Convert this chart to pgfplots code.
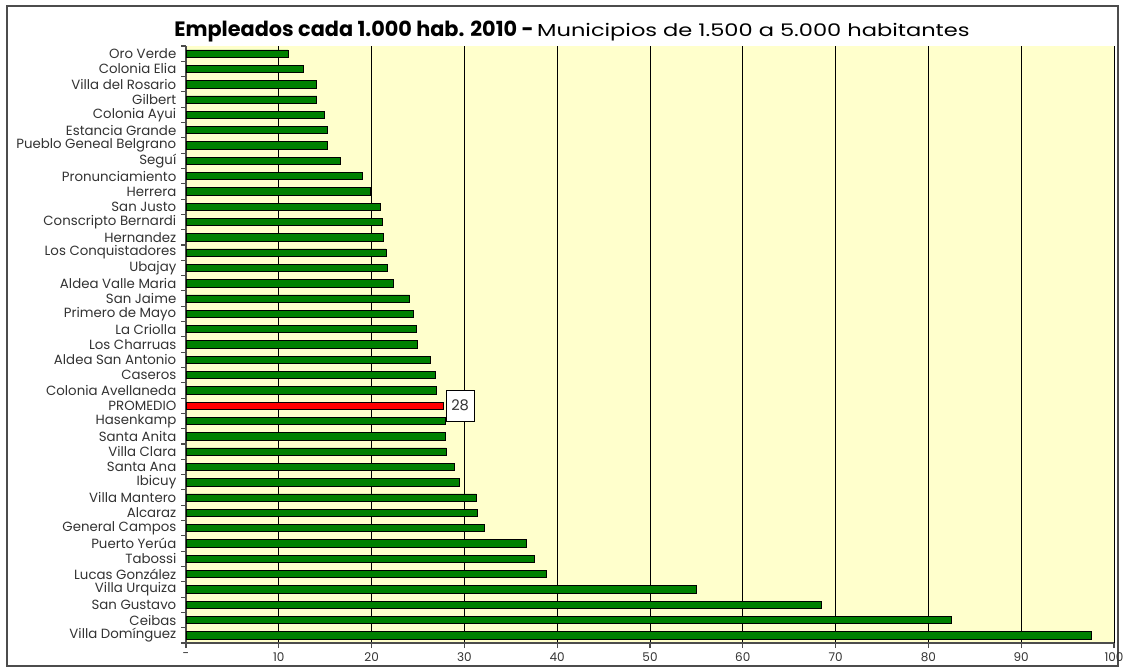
\documentclass[border=0pt]{standalone}
\usepackage{pgfplots}
\pgfplotsset{compat=1.18}
\usepackage{fontspec}
\setmainfont{Poppins}
\definecolor{plotbg}{RGB}{255,255,204}
\definecolor{bargreen}{RGB}{0,128,0}
\definecolor{barred}{RGB}{255,0,0}

% idx = row from the top, val = empleados cada 1.000 hab.
\pgfplotstableread{
idx val
0  11.0
1  12.6
2  14.1
3  14.1
4  14.9
5  15.2
6  15.2
7  16.6
8  19.0
9  19.9
10 20.9
11 21.2
12 21.3
13 21.55
14 21.7
15 22.3
16 24.1
17 24.5
18 24.8
19 24.9
20 26.3
21 26.9
22 27.0
24 27.9
25 27.9
26 28.05
27 28.9
28 29.5
29 31.3
30 31.4
31 32.2
32 36.7
33 37.5
34 38.8
35 55.0
36 68.5
37 82.5
38 97.6
}\municipios

\pgfplotstableread{
idx val
23 27.7
}\promedio

\begin{document}
\begin{tikzpicture}
\fill[white] (0,0) rectangle (843.75pt,500.25pt);
\path[use as bounding box] (0,0) rectangle (843.75pt,500.25pt);
\draw[black!70, line width=1.5pt] (5.25pt,0.75pt) rectangle (838.5pt,495.75pt);

\begin{axis}[
    at={(139.5pt,18pt)}, anchor=south west,
    scale only axis,
    width=696pt, height=447.75pt,
    xmin=0, xmax=100,
    ymin=-0.5, ymax=38.5,
    y dir=reverse,
    xbar, bar shift=0pt, bar width=5.5pt,
    axis background/.style={fill=plotbg},
    axis x line*=bottom, axis y line*=left,
    axis line style={black!70, line width=0.8pt},
    tick align=outside,
    major tick length=3.75pt, minor tick length=3.75pt,
    tick style={black!70, line width=0.8pt},
    xtick={0,10,...,100},
    xticklabels={-,10,20,30,40,50,60,70,80,90,100},
    xmajorgrids,
    major grid style={black, line width=0.6pt},
    ytick={0,...,38},
    major y tick style={draw=none},
    minor ytick={-0.5,0.5,...,38.5},
    yticklabels={Oro Verde, Colonia Elia, Villa del Rosario, Gilbert, Colonia Ayui,
      Estancia Grande, Pueblo Geneal Belgrano, Seguí, Pronunciamiento, Herrera,
      San Justo, Conscripto Bernardi, Hernandez, Los Conquistadores, Ubajay,
      Aldea Valle Maria, San Jaime, Primero de Mayo, La Criolla, Los Charruas,
      Aldea San Antonio, Caseros, Colonia Avellaneda, PROMEDIO, Hasenkamp,
      Santa Anita, Villa Clara, Santa Ana, Ibicuy, Villa Mantero, Alcaraz,
      General Campos, Puerto Yerúa, Tabossi, Lucas González, Villa Urquiza,
      San Gustavo, Ceibas, Villa Domínguez},
    xticklabel style={font=\fontsize{9}{10}\selectfont, text=black!80},
    yticklabel style={font=\fontsize{10}{11}\selectfont, text=black!80},
    /pgf/number format/assume math mode=true,
    clip=false,
]
\addplot[fill=bargreen, draw=black, line width=0.6pt] table[x=val, y=idx] {\municipios};
\addplot[fill=barred, draw=black, line width=0.6pt,
    point meta=x,
    nodes near coords={\pgfmathprintnumber[fixed, precision=0]{\pgfplotspointmeta}},
    nodes near coords style={draw=black, fill=white, anchor=west, xshift=2pt,
      minimum width=21pt, minimum height=23pt, inner sep=0pt,
      font=\fontsize{11}{12}\selectfont, text=black!80}]
    table[x=val, y=idx] {\promedio};
\end{axis}

\node[anchor=base] at (429pt,472.9pt)
  {{\fontsize{15.6}{18}\selectfont\bfseries Empleados cada 1.000 hab. 2010 -}
   {\fontsize{13}{14}\selectfont\addfontfeatures{FakeStretch=1.3}Municipios de 1.500 a 5.000 habitantes}};
\end{tikzpicture}
\end{document}
